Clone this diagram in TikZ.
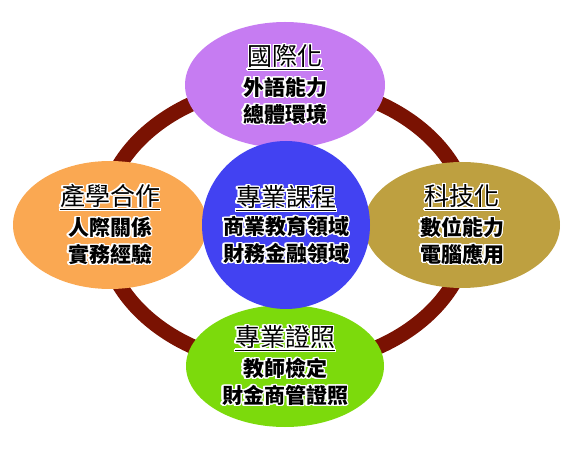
\documentclass[tikz,border=0pt]{standalone}
\usepackage{fontspec}
\setmainfont{Noto Sans CJK TC}
\usepackage[copies]{contour}
\contourlength{1.3pt}
\contournumber{24}
\usetikzlibrary{shapes.geometric}
\definecolor{ringred}{RGB}{122,18,2}
\definecolor{cpurple}{RGB}{198,124,242}
\definecolor{cblue}{RGB}{66,66,242}
\definecolor{corange}{RGB}{250,168,82}
\definecolor{cgold}{RGB}{190,160,64}
\definecolor{cgreen}{RGB}{124,218,12}
\newcommand{\halo}[1]{\contour{white}{#1}}
\newcommand{\ttl}[1]{{\fontsize{25}{30}\selectfont\halo{\underline{#1}}}}
\newcommand{\bdy}[1]{{\fontsize{21}{27}\selectfont\bfseries\halo{#1}}}
\tikzset{
  topic/.style={ellipse, inner sep=0pt, align=center, text=black, font=\fontsize{21}{27}\selectfont},
  ring/.style={draw=ringred, line width=15pt}
}
\begin{document}
\begin{tikzpicture}[x=1pt,y=1pt]
\useasboundingbox (0,0) rectangle (570,450);
\draw[ring] (286,225) ellipse [x radius=184, y radius=141];
\node[topic, fill=cpurple, minimum width=200pt, minimum height=126pt] (top) at (285,365)
  {\ttl{國際化}\\[3pt] \bdy{外語能力}\\ \bdy{總體環境}};
\node[topic, fill=corange, minimum width=194pt, minimum height=128pt] (left) at (110,225)
  {\ttl{產學合作}\\[3pt] \bdy{人際關係}\\ \bdy{實務經驗}};
\node[topic, fill=cgold, minimum width=196pt, minimum height=126pt] (right) at (462,225)
  {\ttl{科技化}\\[3pt] \bdy{數位能力}\\ \bdy{電腦應用}};
\node[topic, fill=cgreen, minimum width=198pt, minimum height=122pt] (bottom) at (285,84)
  {\ttl{專業證照}\\[3pt] \bdy{教師檢定}\\ \bdy{財金商管證照}};
\node[circle, fill=cblue, inner sep=0pt, minimum size=168pt, align=center, font=\fontsize{21}{27}\selectfont] (center) at (286,225)
  {\ttl{專業課程}\\[1pt] \bdy{商業教育領域}\\ \bdy{財務金融領域}};
\end{tikzpicture}
\end{document}
